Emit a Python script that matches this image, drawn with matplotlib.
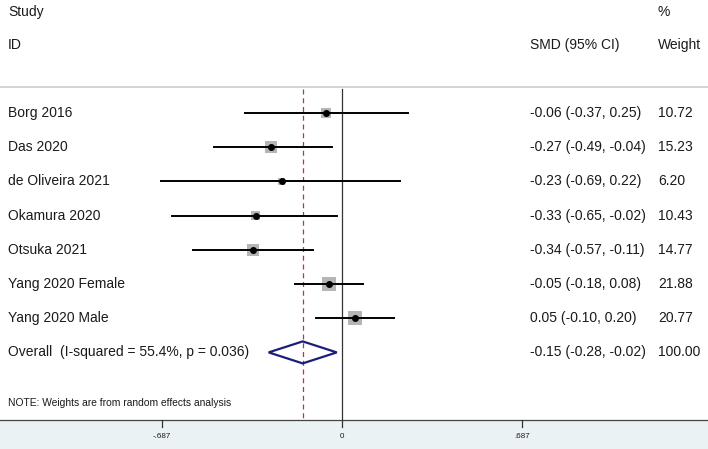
import matplotlib
matplotlib.use("Agg")
import matplotlib.pyplot as plt
import numpy as np

studies = ["Borg 2016", "Das 2020", "de Oliveira 2021", "Okamura 2020",
           "Otsuka 2021", "Yang 2020 Female", "Yang 2020 Male"]
smd = [-0.06, -0.27, -0.23, -0.33, -0.34, -0.05, 0.05]
lo = [-0.37, -0.49, -0.69, -0.65, -0.57, -0.18, -0.10]
hi = [0.25, -0.04, 0.22, -0.02, -0.11, 0.08, 0.20]
weights = [10.72, 15.23, 6.20, 10.43, 14.77, 21.88, 20.77]
overall = (-0.15, -0.28, -0.02)
overall_label = "Overall  (I-squared = 55.4%, p = 0.036)"
tick_vals = [-0.687, 0, 0.687]
tick_labels = ["-.687", "0", ".687"]

plt.rcParams['font.family'] = ['Liberation Sans', 'DejaVu Sans']
W, H = 708, 449
fig = plt.figure(figsize=(W / 100, H / 100), dpi=100)
ax = fig.add_axes([0, 0, 1, 1])
px = 262.0  # pixels per SMD unit
x0 = 342.0
ax.set_xlim(-x0 / px, (W - x0) / px)
ax.set_ylim(H, 0)
ax.axis('off')

def xp(p):
    return (p - x0) / px

fs = 10
tc = '#1a1a1a'
# header
ax.text(xp(8), 12, "Study", fontsize=fs, va='center', ha='left', color=tc)
ax.text(xp(8), 45, "ID", fontsize=fs, va='center', ha='left', color=tc)
ax.text(xp(658), 12, "%", fontsize=fs, va='center', ha='left', color=tc)
ax.text(xp(658), 45, "Weight", fontsize=fs, va='center', ha='left', color=tc)
ax.text(xp(530), 45, "SMD (95% CI)", fontsize=fs, va='center', ha='left', color=tc)
ax.plot([xp(0), xp(W)], [87, 87], color='#cccccc', lw=1.2)

# reference lines
ax.plot([0, 0], [89, 420], color='#333333', lw=0.9, zorder=1)
ax.plot([overall[0], overall[0]], [89, 420], color='#b03845', lw=0.9,
        ls=(0, (4, 3)), zorder=1)

y0, dy = 113, 34.2
for i, s in enumerate(studies):
    y = y0 + i * dy
    ax.text(xp(8), y, s, fontsize=fs, va='center', ha='left', color=tc)
    ax.plot([lo[i], hi[i]], [y, y], color='black', lw=1.4, zorder=3)
    side = 3.0 * np.sqrt(weights[i])
    ax.add_patch(plt.Rectangle((smd[i] - side / 2 / px, y - side / 2), side / px, side,
                               facecolor='#b5b5b5', edgecolor='none', zorder=2))
    ax.plot([smd[i]], [y], marker='o', ms=4, color='black', zorder=4)
    ax.text(xp(530), y, f"{smd[i]:.2f} ({lo[i]:.2f}, {hi[i]:.2f})", fontsize=fs,
            va='center', ha='left', color=tc)
    ax.text(xp(658), y, f"{weights[i]:.2f}", fontsize=fs, va='center', ha='left', color=tc)

yo = y0 + len(studies) * dy
ax.text(xp(8), yo, overall_label, fontsize=fs, va='center', ha='left', color=tc)
dh = 11
ax.add_patch(plt.Polygon([(overall[1], yo), (overall[0], yo - dh), (overall[2], yo),
                          (overall[0], yo + dh)], closed=True, fill=False,
                         edgecolor='#1a1f7a', lw=1.6, zorder=3))
ax.text(xp(530), yo, f"{overall[0]:.2f} ({overall[1]:.2f}, {overall[2]:.2f})", fontsize=fs,
        va='center', ha='left', color=tc)
ax.text(xp(658), yo, "100.00", fontsize=fs, va='center', ha='left', color=tc)

ax.text(xp(8), 403, "NOTE: Weights are from random effects analysis", fontsize=7.4,
        va='center', ha='left', color=tc)

# bottom axis band
ax.add_patch(plt.Rectangle((xp(0), 420), W / px, 29, facecolor='#eaf2f4',
                           edgecolor='none', zorder=0))
ax.plot([xp(0), xp(W)], [420, 420], color='#444444', lw=0.9)
for v, l in zip(tick_vals, tick_labels):
    ax.plot([v, v], [420, 427], color='#333333', lw=0.9)
    ax.text(v, 437, l, fontsize=5.8, ha='center', va='center', color=tc)

fig.savefig("out.png", dpi=100)
